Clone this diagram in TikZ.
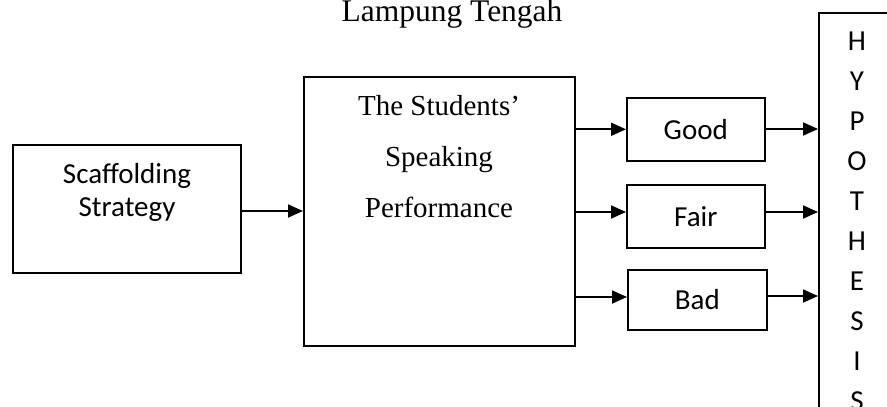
\documentclass[tikz,border=0pt]{standalone}
\usepackage{fontspec}
\setmainfont{Liberation Serif}
\newfontfamily\calib{Carlito}
\usetikzlibrary{arrows.meta,positioning}
\begin{document}
\begin{tikzpicture}[x=1pt,y=-1pt,
  box/.style={draw=black,line width=1.6pt,rectangle,inner sep=0pt},
  conn/.style={line width=1.8pt,-{Triangle[length=15pt,width=13pt]}},
  sertext/.style={font=\fontsize{29}{35}\selectfont,inner sep=0pt,anchor=base},
  santext/.style={font=\calib\fontsize{29}{35}\selectfont,inner sep=0pt}]
\useasboundingbox[clip] (0,0) rectangle (887,407);
% title
\node[sertext,font=\fontsize{31.5}{36}\selectfont] (title) at (452,21) {Lampung Tengah};
% boxes
\node[box,minimum width=228pt,minimum height=128pt,anchor=north west] (scaf) at (12,144) {};
\node[santext,anchor=base] (scaft1) at (127,183) {Scaffolding};
\node[santext,anchor=base] (scaft2) at (127,216) {Strategy};
\node[box,minimum width=271pt,minimum height=269pt,anchor=north west] (main) at (303,76) {};
\node[sertext] (mt1) at (439,115) {The Students'};
\node[sertext] (mt2) at (439,166) {Speaking};
\node[sertext] (mt3) at (439,217) {Performance};
\node[box,santext,minimum width=138pt,minimum height=63pt,anchor=north west] (good) at (626,97) {Good};
\node[box,santext,minimum width=138pt,minimum height=63pt,anchor=north west] (fair) at (626,184) {Fair};
\node[box,santext,minimum width=139pt,minimum height=60pt,anchor=north west] (bad) at (627,269) {Bad};
\node[box,minimum width=120pt,minimum height=420pt,anchor=north west] (hyp) at (818,12) {};
\foreach \L [count=\i from 0] in {H,Y,P,O,T,H,E,S,I,S}
  \node[santext] (h\i) at (857,41+40*\i) {\L};
% connectors
\draw[conn] (scaf.east |- 0,211) -- (main.west |- 0,211);
\draw[conn] (main.east |- good.west) -- (good.west);
\draw[conn] (main.east |- 0,212) -- (fair.west |- 0,212);
\draw[conn] (main.east |- 0,297) -- (bad.west |- 0,297);
\draw[conn] (good.east |- 0,129) -- (hyp.west |- 0,129);
\draw[conn] (fair.east |- 0,212) -- (hyp.west |- 0,212);
\draw[conn] (bad.east |- 0,296) -- (hyp.west |- 0,296);
\end{tikzpicture}
\end{document}
